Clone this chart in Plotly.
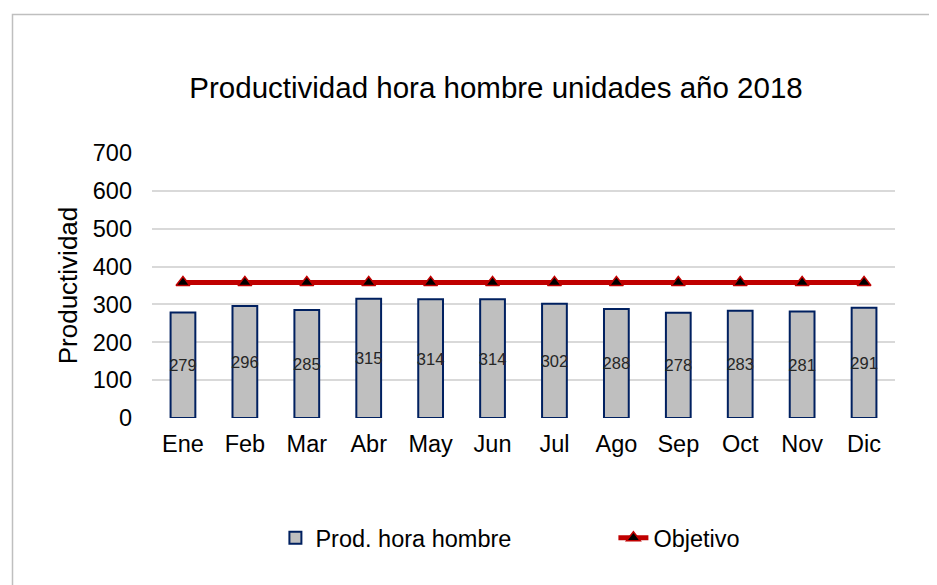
import plotly.graph_objects as go

meses = ["Ene", "Feb", "Mar", "Abr", "May", "Jun", "Jul", "Ago", "Sep", "Oct", "Nov", "Dic"]
productividad = [279, 296, 285, 315, 314, 314, 302, 288, 278, 283, 281, 291]
objetivo = [358] * 12
y_ticks = [0, 100, 200, 300, 400, 500, 600, 700]

FONT = "Liberation Sans, Arial, sans-serif"

# page body adds an 8px offset; plot area target in screenshot: x 152-895, y 153-418
L, T, W, H = 144, 145, 743, 265

fig = go.Figure()
fig.add_trace(go.Bar(
    x=meses, y=productividad, name="Prod. hora hombre",
    marker=dict(color="#BFBFBF", line=dict(color="#002060", width=2)),
    width=0.4,
    text=[str(v) for v in productividad],
    textposition="inside", insidetextanchor="middle",
    textfont=dict(size=16.5, color="#262626", family=FONT),
    textangle=0,
))
fig.add_trace(go.Scatter(
    x=meses, y=objetivo, name="Objetivo", mode="lines+markers",
    line=dict(color="#C00000", width=5),
    marker=dict(symbol="triangle-up", size=12, color="#000000",
                line=dict(color="#C00000", width=1.5)),
))

fig.update_layout(
    width=937, height=585,
    margin=dict(l=L, r=937 - L - W, t=T, b=585 - T - H, autoexpand=False),
    paper_bgcolor="white", plot_bgcolor="white",
    font=dict(family=FONT, color="#262626"),
    uniformtext=dict(minsize=16.5, mode="show"),
    title=dict(text="Productividad hora hombre unidades año 2018",
               x=0.463, xref="paper", xanchor="center",
               y=1 - 80 / 585, yref="container", yanchor="middle",
               font=dict(size=29.5, color="#000000", family=FONT)),
    showlegend=True,
    legend=dict(orientation="h", x=0.621, xanchor="center", y=(T + H - 530) / H, yanchor="middle",
                font=dict(size=23.5, color="#000000", family=FONT), traceorder="normal",
                entrywidth=293, entrywidthmode="pixels"),
)
fig.update_xaxes(range=[-0.5, 11.5], showgrid=False, showline=False, ticks="",
                 ticklabelstandoff=9,
                 tickfont=dict(size=23.5, color="#000000", family=FONT))
fig.update_yaxes(range=[0, 700], tickvals=y_ticks, showgrid=True, gridcolor="#D9D9D9",
                 gridwidth=1.5, zeroline=False, showline=False,
                 tickfont=dict(size=23.5, color="#000000", family=FONT),
                 ticklabelstandoff=19,
                 title=dict(text="Productividad", font=dict(size=26, color="#000000", family=FONT),
                            standoff=7))

# outer frame (top and left edges visible, rest runs off canvas)
fig.add_shape(type="rect", xref="paper", yref="paper",
              x0=(4.5 - L) / W, x1=(960 - L) / W,
              y0=(T + H - 620) / H, y1=(T + H - 6.5) / H,
              line=dict(color="#BFBFBF", width=1.5), fillcolor="rgba(0,0,0,0)", layer="below")

fig.write_html("out.html")
